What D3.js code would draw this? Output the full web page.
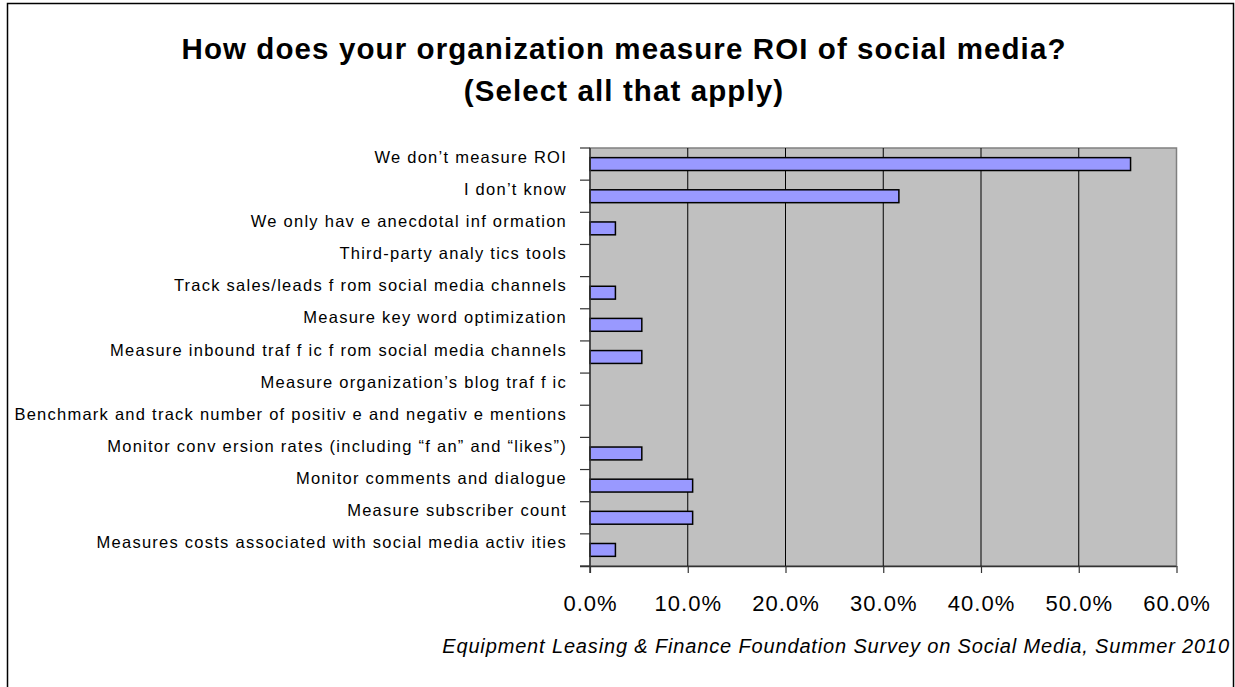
<!DOCTYPE html>
<html>
<head>
<meta charset="utf-8">
<script src="https://cdn.jsdelivr.net/npm/d3@7"></script>
<style>
  html, body { margin: 0; padding: 0; background: #fff; }
  svg { display: block; }
</style>
</head>
<body>
<svg id="chart" width="1235" height="687"></svg>
<script>
const titleLines = ["How does your organization measure ROI of social media?", "(Select all that apply)"];
const categories = [
  "We don\u2019t measure ROI",
  "I don\u2019t know",
  "We only hav e anecdotal inf ormation",
  "Third-party analy tics tools",
  "Track sales/leads f rom social media channels",
  "Measure key word optimization",
  "Measure inbound traf f ic f rom social media channels",
  "Measure organization\u2019s blog traf f ic",
  "Benchmark and track number of positiv e and negativ e mentions",
  "Monitor conv ersion rates (including \u201cf an\u201d and \u201clikes\u201d)",
  "Monitor comments and dialogue",
  "Measure subscriber count",
  "Measures costs associated with social media activ ities"
];
const values = [55.3, 31.6, 2.6, 0, 2.6, 5.3, 5.3, 0, 0, 5.3, 10.5, 10.5, 2.6];
const tickValues = [0, 10, 20, 30, 40, 50, 60];
const sourceNote = "Equipment Leasing & Finance Foundation Survey on Social Media, Summer 2010";

const svg = d3.select("#chart");
const font = "'Liberation Sans', Arial, sans-serif";

// outer border
svg.append("rect").attr("x", 7.5).attr("y", 3.5).attr("width", 1226).attr("height", 720)
  .attr("fill", "#fff").attr("stroke", "#000").attr("stroke-width", 1.5);

// title
svg.append("g").selectAll("text").data(titleLines).join("text")
  .attr("x", 624).attr("y", (d, i) => 59 + i * 42)
  .attr("text-anchor", "middle")
  .attr("font-family", font).attr("font-weight", "bold").attr("font-size", 29.5)
  .attr("letter-spacing", 1.1)
  .attr("fill", "#000").text(d => d);

const plot = {left: 590, right: 1176.5, top: 148, bottom: 566};
const x = d3.scaleLinear().domain([0, 60]).range([plot.left, plot.right]);
const y = d3.scaleBand().domain(categories).range([plot.top, plot.bottom]).paddingInner(0.6).paddingOuter(0.3);
const yBand = d3.scaleBand().domain(categories).range([plot.top, plot.bottom]);

// plot background
svg.append("rect").attr("x", plot.left).attr("y", plot.top)
  .attr("width", plot.right - plot.left).attr("height", plot.bottom - plot.top)
  .attr("fill", "#c0c0c0").attr("stroke", "#808080").attr("stroke-width", 1.5);

// gridlines
svg.append("g").selectAll("line").data(tickValues.slice(1, -1)).join("line")
  .attr("x1", d => x(d)).attr("x2", d => x(d))
  .attr("y1", plot.top).attr("y2", plot.bottom)
  .attr("stroke", "#000").attr("stroke-width", 1);

// bars
svg.append("g").selectAll("rect").data(categories).join("rect")
  .filter((d, i) => values[i] > 0)
  .attr("x", x(0))
  .attr("y", d => y(d))
  .attr("width", d => x(values[categories.indexOf(d)]) - x(0))
  .attr("height", y.bandwidth())
  .attr("fill", "#9999ff").attr("stroke", "#000").attr("stroke-width", 1.5);

// left axis line and ticks at band boundaries
const leftAxis = svg.append("g");
leftAxis.append("line").attr("x1", plot.left).attr("x2", plot.left)
  .attr("y1", plot.top).attr("y2", plot.bottom + 7).attr("stroke", "#333").attr("stroke-width", 1.5);
const boundaries = categories.map(c => yBand(c)).concat([plot.bottom]);
leftAxis.selectAll("line.t").data(boundaries).join("line").attr("class", "t")
  .attr("x1", plot.left - 10).attr("x2", plot.left)
  .attr("y1", d => d).attr("y2", d => d).attr("stroke", "#333").attr("stroke-width", 1.2);

// category labels
leftAxis.selectAll("text").data(categories).join("text")
  .attr("x", 567).attr("y", d => yBand(d) + yBand.bandwidth() / 2 - 1.5)
  .attr("text-anchor", "end")
  .attr("font-family", font).attr("font-size", 16.5).attr("letter-spacing", 1.25).attr("fill", "#000")
  .text(d => d);

// bottom axis
const xAxis = d3.axisBottom(x).tickValues(tickValues).tickSize(7)
  .tickFormat(d => d.toFixed(1) + "%");
const gx = svg.append("g").attr("transform", `translate(0,${plot.bottom})`).call(xAxis);
gx.select(".domain").attr("stroke", "#333").attr("stroke-width", 1.5).attr("d", `M${plot.left - 10},0.5H${plot.right}`);
gx.selectAll(".tick line").attr("stroke", "#333").attr("stroke-width", 1.2);
gx.selectAll(".tick text").attr("y", 45).attr("dy", 0).attr("font-family", font).attr("font-size", 22)
  .attr("letter-spacing", 1).attr("fill", "#000");

// source note
svg.append("text").attr("x", 1230).attr("y", 653).attr("text-anchor", "end")
  .attr("font-family", font).attr("font-style", "italic").attr("font-size", 20)
  .attr("letter-spacing", 0.85).attr("fill", "#000")
  .text(sourceNote);
</script>
</body>
</html>
